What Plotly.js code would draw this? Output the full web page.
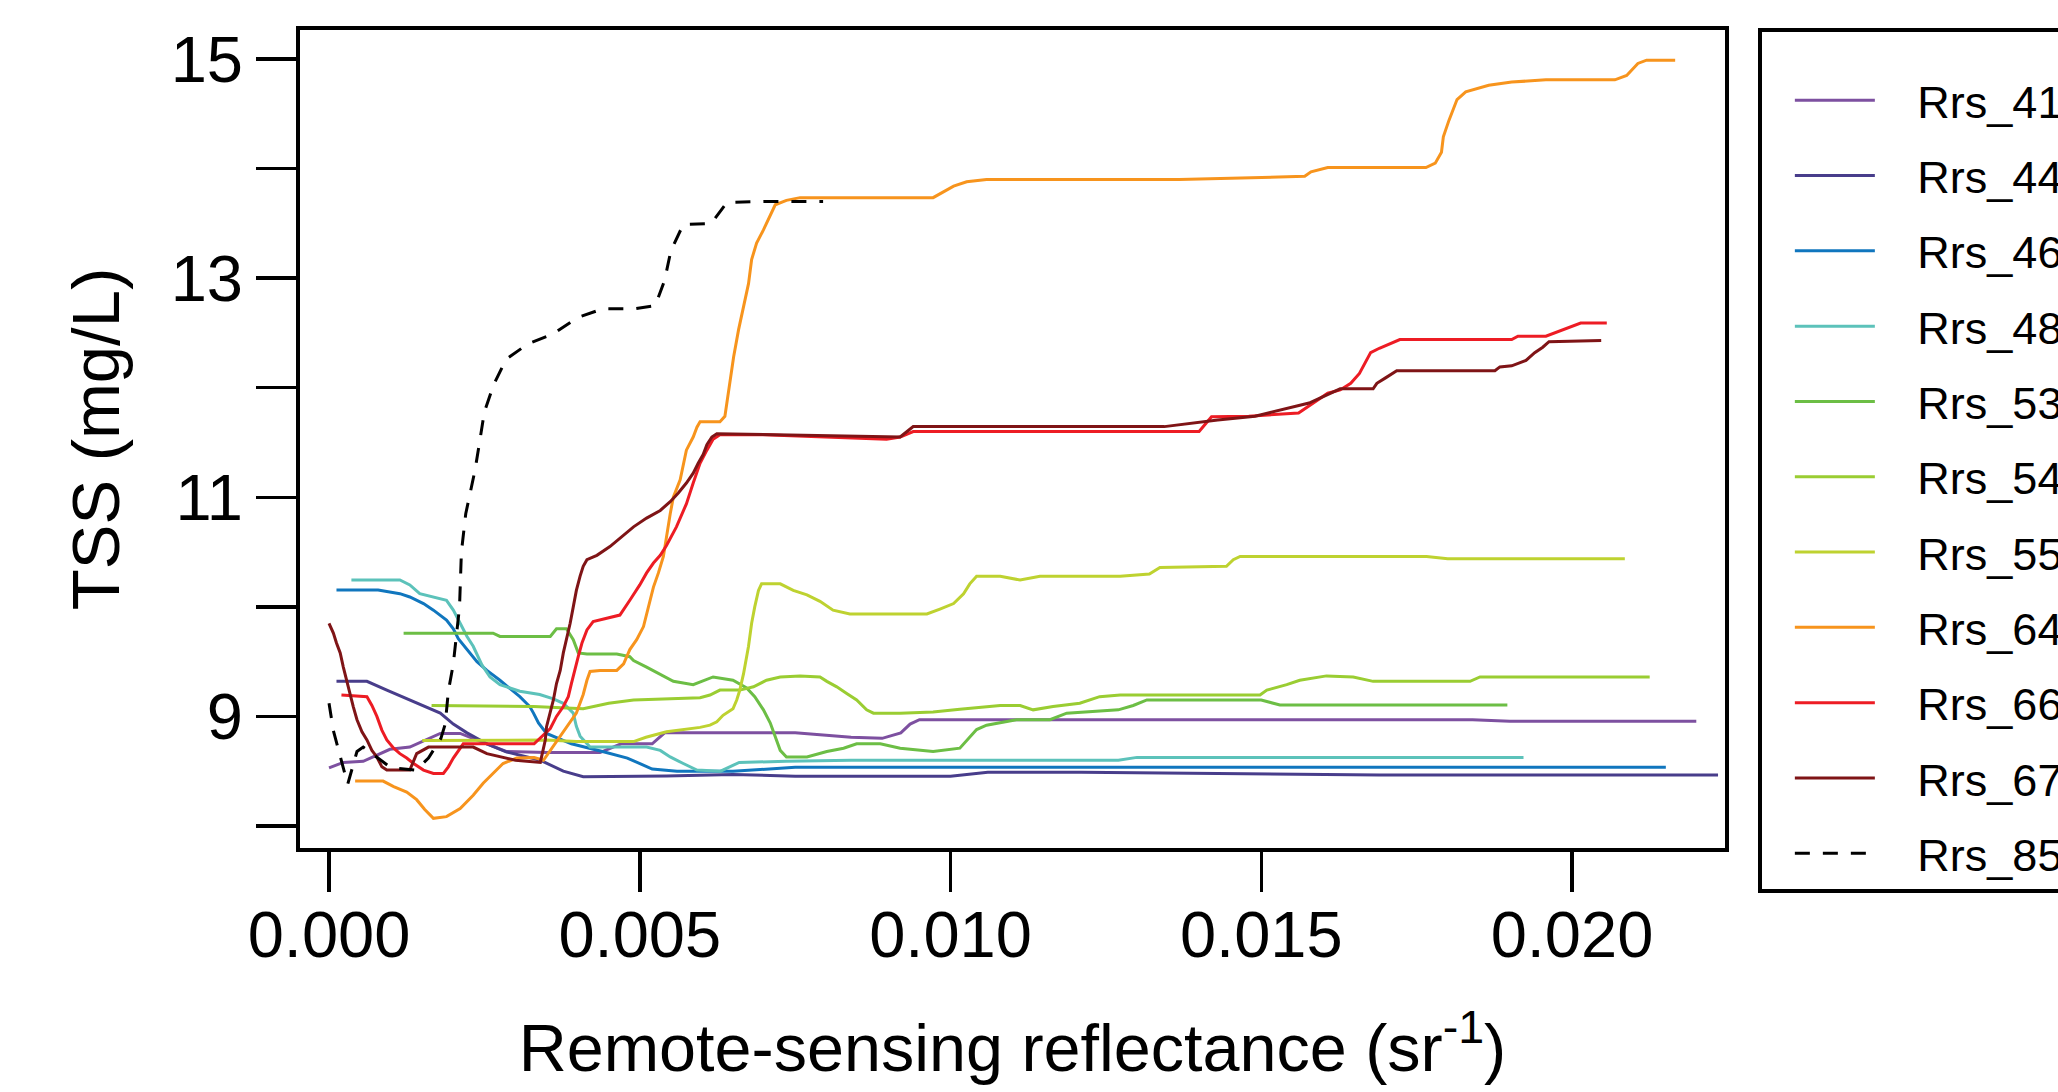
<!DOCTYPE html>
<html>
<head>
<meta charset="utf-8">
<script src="https://cdn.plot.ly/plotly-3.0.1.min.js"></script>
<style>
html,body{margin:0;padding:0;overflow:hidden;background:#ffffff;width:2058px;height:1092px;}
#chart{width:2300px;height:1092px;}
</style>
</head>
<body>
<div id="chart"></div>
<script>
// ---------- data ----------
const bandNames = ["Rrs_412","Rrs_443","Rrs_469","Rrs_488","Rrs_531","Rrs_547","Rrs_555","Rrs_645","Rrs_667","Rrs_678","Rrs_859"];

const x412 = [0,0.00023,0.00055,0.00098,0.0013,0.00179,0.00211,0.0025,0.00285,0.0035,0.00436,0.0047,0.0052,0.0054,0.0063,0.0075,0.0084,0.0089,0.0092,0.00935,0.0095,0.0184,0.019,0.022];
const y412 = [8.53,8.58,8.59,8.70,8.72,8.845,8.845,8.76,8.68,8.67,8.67,8.75,8.75,8.85,8.85,8.85,8.81,8.80,8.85,8.93,8.97,8.97,8.955,8.955];

const x443 = [0.00012,0.00061,0.00093,0.0013,0.00157,0.00179,0.002,0.00222,0.00254,0.00286,0.0034,0.00361,0.00377,0.00409,0.00468,0.00543,0.0065,0.0075,0.01,0.0106,0.0121,0.0144,0.0169,0.02235];
const y443 = [9.32,9.32,9.24,9.15,9.09,9.03,8.93,8.85,8.75,8.675,8.60,8.54,8.50,8.45,8.45,8.456,8.47,8.455,8.455,8.49,8.49,8.475,8.465,8.465];

const x469 = [0.00012,0.00079,0.00114,0.0013,0.00152,0.00168,0.00189,0.002,0.00208,0.00222,0.00238,0.00254,0.00275,0.00307,0.00323,0.00329,0.00337,0.0035,0.0039,0.0044,0.0048,0.0052,0.0056,0.0065,0.0075,0.02151];
const y469 = [10.154,10.154,10.12,10.09,10.03,9.97,9.88,9.80,9.71,9.61,9.50,9.42,9.33,9.18,9.09,9.03,8.94,8.845,8.75,8.68,8.62,8.52,8.50,8.50,8.535,8.535];

const x488 = [0.00036,0.00114,0.0013,0.00146,0.00189,0.002,0.00211,0.00222,0.00232,0.00246,0.00259,0.00275,0.00307,0.00339,0.00361,0.00377,0.00393,0.00398,0.00404,0.0042,0.00468,0.00511,0.00533,0.00549,0.0057,0.00592,0.0063,0.0066,0.00736,0.0084,0.0127,0.013,0.01922];
const y488 = [10.245,10.245,10.20,10.12,10.06,9.97,9.85,9.73,9.64,9.47,9.36,9.29,9.23,9.20,9.16,9.12,9.03,8.91,8.82,8.72,8.72,8.72,8.69,8.63,8.57,8.51,8.50,8.58,8.59,8.60,8.60,8.626,8.626];

const x531 = [0.0012,0.00264,0.00275,0.00356,0.00366,0.00382,0.00393,0.00401,0.00415,0.00463,0.00484,0.0049,0.00511,0.00533,0.00554,0.00586,0.00618,0.0065,0.00672,0.00685,0.00699,0.0071,0.00718,0.00726,0.00736,0.00769,0.00801,0.00828,0.00849,0.00887,0.00919,0.00972,0.01015,0.01026,0.01042,0.01058,0.01106,0.0116,0.01187,0.0127,0.01294,0.01316,0.015,0.0153,0.01896];
const y531 = [9.76,9.76,9.73,9.73,9.80,9.80,9.70,9.58,9.57,9.57,9.545,9.51,9.45,9.38,9.32,9.29,9.36,9.33,9.26,9.18,9.06,8.94,8.82,8.69,8.63,8.63,8.68,8.71,8.75,8.75,8.71,8.68,8.71,8.78,8.88,8.92,8.97,8.97,9.03,9.06,9.10,9.15,9.15,9.104,9.104];

const x547 = [0.00165,0.00329,0.00409,0.0045,0.0049,0.00597,0.00613,0.00629,0.00661,0.00683,0.00704,0.00726,0.00758,0.0079,0.00801,0.00817,0.00833,0.00849,0.00865,0.00876,0.00919,0.00972,0.01015,0.0108,0.01112,0.01133,0.01165,0.01208,0.0124,0.01273,0.01498,0.01509,0.01541,0.01562,0.01605,0.01648,0.0168,0.01836,0.01852,0.02125];
const y547 = [9.10,9.09,9.07,9.12,9.15,9.17,9.195,9.24,9.24,9.27,9.33,9.36,9.37,9.36,9.32,9.27,9.21,9.15,9.06,9.03,9.03,9.04,9.065,9.10,9.10,9.06,9.09,9.12,9.18,9.195,9.195,9.24,9.29,9.33,9.37,9.36,9.32,9.32,9.36,9.36];

const x555 = [0.0015,0.0035,0.00398,0.0049,0.0051,0.00543,0.00597,0.00613,0.00624,0.00634,0.0065,0.00656,0.00661,0.00667,0.00675,0.0068,0.00685,0.00691,0.00696,0.00726,0.00747,0.00769,0.0079,0.00811,0.00838,0.00962,0.00983,0.01005,0.01021,0.01031,0.01042,0.0108,0.01112,0.01144,0.01273,0.0132,0.01337,0.01444,0.01455,0.01466,0.01766,0.018,0.02085];
const y555 = [8.78,8.785,8.77,8.77,8.81,8.86,8.90,8.92,8.95,9.01,9.07,9.15,9.24,9.39,9.64,9.85,10.0,10.15,10.21,10.21,10.15,10.11,10.05,9.97,9.935,9.935,9.98,10.03,10.12,10.21,10.28,10.28,10.245,10.28,10.28,10.30,10.36,10.37,10.43,10.46,10.46,10.44,10.44];

const x645 = [0.00042,0.00087,0.00104,0.00125,0.00141,0.00154,0.00168,0.00189,0.00211,0.00232,0.00248,0.00264,0.0028,0.00302,0.0033,0.00345,0.00366,0.00382,0.00398,0.00409,0.00415,0.0042,0.00436,0.00463,0.00474,0.00484,0.00495,0.00506,0.00511,0.00516,0.00522,0.0053,0.00538,0.00549,0.00554,0.00565,0.0057,0.00575,0.00586,0.00592,0.00597,0.00629,0.00637,0.00645,0.00651,0.00659,0.00667,0.00675,0.0068,0.00688,0.00699,0.0071,0.00718,0.00736,0.00758,0.00972,0.00983,0.01005,0.01026,0.01058,0.01368,0.0157,0.0158,0.01607,0.01765,0.0178,0.0179,0.01793,0.01802,0.01815,0.01829,0.01866,0.01903,0.01958,0.02069,0.02088,0.02106,0.0212,0.02166];
const y645 = [8.41,8.41,8.36,8.31,8.24,8.15,8.07,8.085,8.16,8.28,8.39,8.48,8.57,8.62,8.625,8.60,8.77,8.89,9.03,9.20,9.33,9.41,9.42,9.42,9.48,9.61,9.70,9.82,9.94,10.06,10.18,10.31,10.46,10.85,11.0,11.16,11.31,11.43,11.55,11.64,11.69,11.69,11.74,12.04,12.28,12.53,12.74,12.95,13.17,13.32,13.44,13.58,13.67,13.71,13.735,13.735,13.77,13.84,13.88,13.90,13.90,13.93,13.97,14.01,14.01,14.05,14.15,14.29,14.44,14.63,14.70,14.76,14.79,14.81,14.81,14.85,14.96,14.99,14.99];

const x667 = [0.0002,0.00061,0.00069,0.00077,0.00085,0.00093,0.00104,0.00114,0.00125,0.00136,0.00152,0.00168,0.00184,0.00192,0.002,0.00208,0.00216,0.00238,0.0033,0.00356,0.00366,0.00377,0.00385,0.0039,0.00396,0.00401,0.00407,0.00415,0.00425,0.00447,0.00468,0.00484,0.005,0.00511,0.00522,0.00533,0.00543,0.00559,0.00575,0.00586,0.00597,0.00608,0.00618,0.00629,0.00699,0.00897,0.00919,0.0094,0.01026,0.014,0.0142,0.0148,0.0156,0.0157,0.0159,0.01607,0.01627,0.01644,0.01658,0.01667,0.01676,0.0169,0.01709,0.01723,0.01903,0.01913,0.01958,0.01977,0.01995,0.02014,0.02056];
const y667 = [9.195,9.18,9.10,9.0,8.875,8.785,8.71,8.66,8.62,8.57,8.51,8.48,8.48,8.54,8.62,8.69,8.75,8.75,8.75,8.89,9.0,9.09,9.18,9.30,9.42,9.545,9.67,9.79,9.865,9.895,9.925,10.06,10.2,10.31,10.40,10.47,10.56,10.73,10.94,11.13,11.31,11.43,11.53,11.57,11.57,11.53,11.55,11.60,11.60,11.60,11.735,11.74,11.77,11.81,11.89,11.95,11.98,12.04,12.13,12.22,12.32,12.36,12.41,12.44,12.44,12.47,12.47,12.51,12.55,12.59,12.59];

const x678 = [0,0.00007,0.00012,0.00018,0.00023,0.00028,0.00034,0.00039,0.00045,0.00053,0.00061,0.00069,0.00077,0.00085,0.00093,0.00104,0.0013,0.00141,0.0016,0.00179,0.00232,0.00254,0.003,0.0034,0.00348,0.0035,0.00356,0.00361,0.00366,0.00372,0.00377,0.00382,0.00388,0.00393,0.00398,0.00404,0.00409,0.00415,0.00431,0.00452,0.00468,0.0049,0.00511,0.00533,0.00549,0.00562,0.00575,0.00586,0.00594,0.00602,0.00608,0.00616,0.00624,0.00919,0.0094,0.01344,0.0143,0.0149,0.01577,0.01627,0.0168,0.01686,0.017,0.01718,0.01876,0.01884,0.01903,0.01926,0.0194,0.01953,0.01963,0.02047];
const y678 = [9.85,9.76,9.67,9.58,9.45,9.33,9.21,9.09,8.97,8.86,8.785,8.69,8.63,8.54,8.51,8.51,8.51,8.66,8.72,8.72,8.72,8.66,8.60,8.58,8.785,8.906,9.03,9.15,9.30,9.42,9.58,9.70,9.85,10.0,10.15,10.28,10.37,10.43,10.47,10.55,10.625,10.73,10.81,10.88,10.96,11.04,11.13,11.22,11.31,11.39,11.48,11.55,11.58,11.55,11.645,11.645,11.705,11.74,11.86,11.99,11.99,12.04,12.09,12.155,12.155,12.19,12.2,12.25,12.32,12.37,12.42,12.43];

const x859 = [0,0.00007,0.0003,0.00045,0.00055,0.001,0.0014,0.0016,0.0018,0.00187,0.00192,0.002,0.0021,0.00213,0.0022,0.00227,0.00235,0.00243,0.0025,0.00265,0.00285,0.0032,0.0036,0.004,0.0044,0.0049,0.00525,0.0054,0.0055,0.0057,0.00615,0.0064,0.007,0.00795];
const y859 = [9.12,8.87,8.38,8.68,8.72,8.53,8.51,8.62,8.80,8.93,9.23,9.48,10.0,10.5,10.85,11.05,11.25,11.53,11.78,12.03,12.26,12.40,12.49,12.64,12.72,12.72,12.75,12.98,13.25,13.49,13.50,13.69,13.70,13.70];

const xTickVals = [0, 0.005, 0.010, 0.015, 0.020];
const xTickText = ["0.000","0.005","0.010","0.015","0.020"];
const yTickVals = [8, 9, 10, 11, 12, 13, 14, 15];
const yTickText = ["", "9", "", "11", "", "13", "", "15"];

// ---------- styles ----------
const lineColors = ["#7D50A0","#483D8B","#1076BE","#5CC2BA","#6CBE45","#9ACD32","#BED230","#F7941D","#ED1C24","#7F1416","#000000"];
const xs = [x412,x443,x469,x488,x531,x547,x555,x645,x667,x678,x859];
const ys = [y412,y443,y469,y488,y531,y547,y555,y645,y667,y678,y859];

const FONT = "'Liberation Sans', Arial, Helvetica, sans-serif";
const pad = "\u00a0\u00a0\u00a0";

const traces = bandNames.map((nm, i) => ({
  type: "scatter",
  mode: "lines",
  x: xs[i],
  y: ys[i],
  name: pad + nm,
  legendgroup: nm,
  line: {
    color: lineColors[i],
    width: 3,
    dash: nm === "Rrs_859" ? "15px,13px" : "solid"
  },
  hoverinfo: "skip"
}));

const W = 2300, H = 1092;
const plotL = 300, plotR = 1725, plotT = 30, plotB = 848;

const layout = {
  width: W,
  height: H,
  margin: {l: plotL, r: W - plotR, t: plotT, b: H - plotB, pad: 0, autoexpand: false},
  paper_bgcolor: "#ffffff",
  plot_bgcolor: "#ffffff",
  font: {family: FONT, color: "#000000", size: 40},
  showlegend: true,
  hovermode: false,
  xaxis: {
    range: [-0.000467, 0.022462],
    tickmode: "array",
    tickvals: xTickVals,
    ticktext: xTickText,
    ticks: "outside",
    ticklen: 40,
    tickwidth: 3.5,
    tickcolor: "#000000",
    ticklabelstandoff: -13,
    showline: true,
    linewidth: 4,
    linecolor: "#000000",
    mirror: true,
    showgrid: false,
    zeroline: false,
    automargin: false,
    tickfont: {family: FONT, size: 65, color: "#000000"},
    title: {text: "Remote-sensing reflectance (sr<sup>-1</sup>)", font: {family: FONT, size: 66.5, color: "#000000"}, standoff: 55}
  },
  yaxis: {
    range: [7.799, 15.265],
    tickmode: "array",
    tickvals: yTickVals,
    ticktext: yTickText,
    ticks: "outside",
    ticklen: 40,
    tickwidth: 3.5,
    tickcolor: "#000000",
    showline: true,
    linewidth: 4,
    linecolor: "#000000",
    mirror: true,
    showgrid: false,
    zeroline: false,
    automargin: false,
    tickfont: {family: FONT, size: 65, color: "#000000"},
    title: {text: "TSS (mg/L)", font: {family: FONT, size: 67, color: "#000000"}, standoff: 30}
  },
  legend: {
    x: (1757.5 - plotL) / (plotR - plotL),
    xref: "paper",
    xanchor: "left",
    y: 1 + 2 / (plotB - plotT),
    yanchor: "top",
    maxheight: 1000,
    bgcolor: "#ffffff",
    bordercolor: "#000000",
    borderwidth: 4,
    font: {family: FONT, size: 45, color: "#000000"},
    itemwidth: 80,
    indentation: 21.4,
    tracegroupgap: 13.8,
    traceorder: "grouped",
    title: {text: "\u00a0", side: "top left", font: {family: FONT, size: 25}}
  }
};

Plotly.newPlot("chart", traces, layout, {displayModeBar: false, staticPlot: true});
</script>
</body>
</html>
